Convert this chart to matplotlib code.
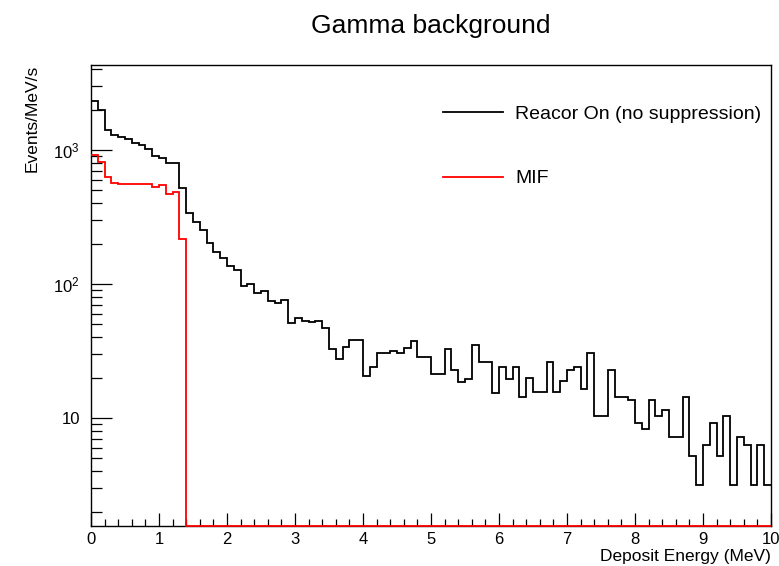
import numpy as np
import matplotlib
matplotlib.use('Agg')
import matplotlib.pyplot as plt
from matplotlib.ticker import FixedLocator, MultipleLocator, LogLocator, NullFormatter

# Datos: histograma de 100 bins de 0.1 MeV entre 0 y 10 MeV
e_min, e_max, n_bins = 0.0, 10.0, 100
bin_edges = np.linspace(e_min, e_max, n_bins + 1)

# Reactor encendido (sin supresion), Events/MeV/s
reactor_on = [
    2320, 1990, 1410, 1295, 1257, 1202, 1122, 1090, 1012, 902,
    867, 803, 803, 518, 340, 292, 253, 203, 174, 156,
    135, 127, 97, 100, 85, 88, 74, 72, 76, 51,
    55.4, 53, 51.8, 53, 47, 32.7, 27.5, 33.7, 37.8, 37.8,
    20.6, 23.9, 30.4, 30.4, 31.8, 30.4, 33.1, 37.6, 28.7, 28.7,
    21.3, 21.3, 32.7, 22.8, 18.5, 19.5, 34.7, 26.3, 26.3, 15.3,
    23.9, 19.6, 23.9, 14.4, 19.8, 15.5, 15.5, 26.3, 15.5, 18.7,
    22.8, 23.9, 16.4, 30.7, 10.4, 10.4, 22.8, 14.4, 14.4, 13.6,
    9.2, 8.2, 13.5, 10.4, 11.5, 7.2, 7.2, 14.4, 5.2, 3.16,
    6.3, 9.2, 5.2, 10.4, 3.16, 7.2, 6.3, 3.16, 6.3, 3.16,
]

# MIF: solo hasta 1.4 MeV, el resto es cero
mif = [918, 818, 626, 570, 557, 557, 557, 557, 557, 532,
       548, 470, 483, 217] + [0] * 86

legend_labels = ['Reacor On (no suppression)', 'MIF']

# Estilo tipo ROOT
plt.rcParams['font.family'] = ['Liberation Sans', 'DejaVu Sans']
plt.rcParams['mathtext.fontset'] = 'custom'
plt.rcParams['mathtext.rm'] = 'Liberation Sans'
plt.rcParams['mathtext.it'] = 'Liberation Sans:italic'

y_min, y_max = 1.56, 4300

fig = plt.figure(figsize=(7.79, 5.66), dpi=100)
ax = fig.add_axes([91 / 779, 1 - 526 / 566, 680 / 779, 461 / 566])

# En escala log los ceros se dibujan en el borde inferior, como ROOT
mif_plot = np.where(np.array(mif) > 0, mif, y_min)

h1 = ax.stairs(reactor_on, bin_edges, baseline=None, color='black',
               lw=1.3, zorder=3, clip_on=False, label=legend_labels[0])
h2 = ax.stairs(mif_plot, bin_edges, baseline=None, color='red',
               lw=1.3, zorder=3, clip_on=False, label=legend_labels[1])

ax.set_yscale('log')
ax.set_xlim(e_min, e_max)
ax.set_ylim(y_min, y_max)

# Ejes y marcas
ax.xaxis.set_major_locator(MultipleLocator(1))
ax.xaxis.set_minor_locator(MultipleLocator(0.2))
ax.yaxis.set_major_locator(FixedLocator([10, 100, 1000]))
ax.set_yticklabels(['10', '$10^{2}$', '$10^{3}$'])
ax.yaxis.set_minor_locator(LogLocator(base=10, subs=np.arange(2, 10)))
ax.yaxis.set_minor_formatter(NullFormatter())

ax.tick_params(axis='both', which='both', direction='in', top=False, right=False,
               color='black', width=0.9)
ax.tick_params(axis='x', which='major', length=9.5, labelsize=12, pad=4)
ax.tick_params(axis='x', which='minor', length=5)
ax.tick_params(axis='y', which='major', length=15, labelsize=12, pad=8)
ax.tick_params(axis='y', which='minor', length=8)
for sp in ax.spines.values():
    sp.set_color('black')
    sp.set_linewidth(1.0)

ax.set_xlabel('Deposit Energy (MeV)', fontsize=12.5, ha='right', va='center')
ax.xaxis.set_label_coords(1.0, (526 - 557) / 461)
ax.set_ylabel('Events/MeV/s', fontsize=12.5, loc='top', labelpad=10)

fig.text(431 / 779, 1 - 26 / 566, 'Gamma background', fontsize=19,
         ha='center', va='center')

ax.legend(handles=[h1, h2], loc='center left', frameon=False, fontsize=14,
          handlelength=3.1, handletextpad=0.6, labelspacing=2.4,
          borderpad=0, borderaxespad=0,
          bbox_to_anchor=(443 / 779, 1 - 146.5 / 566),
          bbox_transform=fig.transFigure)

fig.savefig('out.png', dpi=100)
